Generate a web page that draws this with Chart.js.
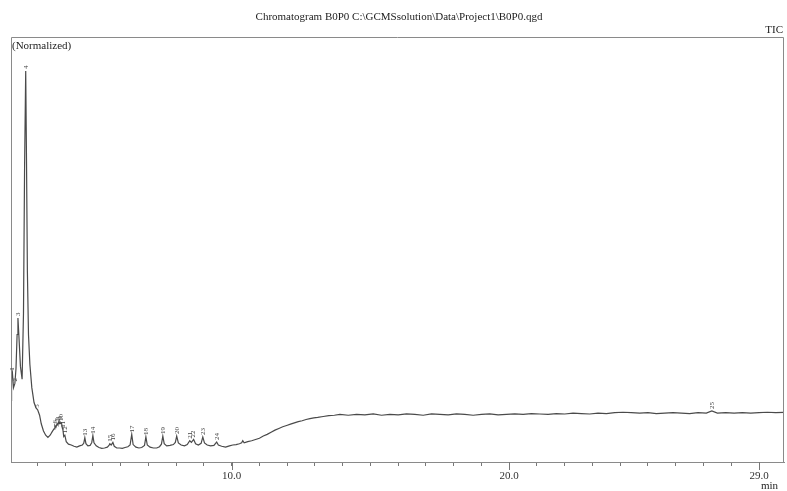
<!DOCTYPE html>
<html>
<head>
<meta charset="utf-8">
<script src="https://cdn.jsdelivr.net/npm/chart.js@4/dist/chart.umd.min.js"></script>
<style>
    html, body { margin: 0; padding: 0; background: #fff; }
    #wrap { width: 787px; height: 491px; }
</style>
</head>
<body>
<div id="wrap"><canvas id="tic"></canvas></div>
<script>
// retention time (min) and normalized intensity
const times = [
    2.05, 2.07, 2.10, 2.14, 2.19, 2.23, 2.27, 2.30, 2.34, 2.39, 2.45, 2.50, 2.54, 2.58, 2.61, 2.64, 2.68, 2.73, 2.80, 2.88,
    2.95, 3.01, 3.08, 3.14, 3.22, 3.30, 3.38, 3.46, 3.54, 3.60, 3.63, 3.67, 3.71, 3.74, 3.76, 3.79, 3.81, 3.84, 3.87, 3.90,
    3.92, 3.95, 3.99, 4.04, 4.12, 4.22, 4.32, 4.42, 4.52, 4.62, 4.67, 4.71, 4.75, 4.82, 4.90, 4.96, 5.00, 5.04, 5.12, 5.22,
    5.32, 5.42, 5.52, 5.58, 5.61, 5.66, 5.72, 5.77, 5.86, 5.96, 6.06, 6.16, 6.26, 6.34, 6.40, 6.45, 6.55, 6.66, 6.76, 6.86,
    6.91, 6.96, 7.06, 7.18, 7.30, 7.40, 7.47, 7.52, 7.57, 7.66, 7.78, 7.90, 7.97, 8.02, 8.08, 8.18, 8.30, 8.40, 8.49, 8.55,
    8.63, 8.70, 8.80, 8.90, 8.96, 9.02, 9.12, 9.24, 9.36, 9.46, 9.52, 9.64, 9.78, 9.92, 10.04, 10.16, 10.28, 10.36, 10.40, 10.45,
    10.58, 10.72, 10.86, 11.00, 11.14, 11.28, 11.42, 11.56, 11.70, 11.84, 11.98, 12.12, 12.26, 12.40, 12.54, 12.68, 12.82, 12.96, 13.10, 13.30,
    13.50, 13.70, 13.90, 14.2, 14.5, 14.8, 15.1, 15.4, 15.7, 16.0, 16.3, 16.6, 16.9, 17.2, 17.5, 17.8, 18.1, 18.4, 18.7, 19.0,
    19.3, 19.6, 19.9, 20.2, 20.5, 20.8, 21.1, 21.4, 21.7, 22.0, 22.3, 22.6, 22.9, 23.2, 23.5, 23.8, 24.1, 24.4, 24.7, 25.0,
    25.3, 25.6, 25.9, 26.2, 26.5, 26.8, 27.1, 27.3, 27.5, 27.8, 28.1, 28.4, 28.7, 29.0, 29.3, 29.6, 29.9
];
const signal = [
    14.5, 20.0, 21.0, 17.5, 18.5, 22.0, 30.0, 33.9, 29.0, 22.5, 19.5, 35.0, 70.0, 92.0, 70.0, 45.0, 30.0, 23.0, 17.5, 14.0,
    12.7, 12.3, 11.0, 9.0, 7.3, 6.3, 5.8, 6.3, 7.2, 7.8, 8.6, 8.2, 9.0, 8.7, 9.4, 9.0, 9.5, 9.1, 9.2, 8.0,
    7.6, 6.0, 6.3, 4.8, 4.2, 4.0, 3.7, 3.5, 3.8, 4.0, 4.4, 5.7, 4.3, 3.8, 3.9, 4.6, 6.2, 4.5, 3.8, 3.4,
    3.2, 3.3, 3.5, 3.9, 4.3, 4.0, 4.6, 3.7, 3.3, 3.3, 3.2, 3.4, 3.6, 4.0, 6.5, 4.1, 3.5, 3.3, 3.4, 3.9,
    5.9, 4.0, 3.5, 3.3, 3.3, 3.6, 4.2, 6.1, 4.3, 3.8, 3.9, 4.1, 4.6, 6.1, 4.5, 4.0, 3.8, 4.1, 5.0, 4.6,
    5.3, 4.3, 4.0, 4.4, 5.9, 4.5, 4.0, 3.8, 3.9, 4.7, 4.0, 3.7, 3.5, 3.8, 4.0, 4.1, 4.3, 4.5, 5.0, 4.5,
    4.8, 5.0, 5.3, 5.6, 6.1, 6.5, 7.0, 7.5, 7.9, 8.3, 8.6, 8.9, 9.2, 9.5, 9.7, 10.0, 10.2, 10.4, 10.5, 10.7,
    10.9, 11.0, 11.2, 11.0, 11.2, 11.1, 11.3, 11.0, 11.2, 11.1, 11.3, 11.2, 11.0, 11.3, 11.2, 11.1, 11.3, 11.2, 11.0, 11.2,
    11.3, 11.1, 11.2, 11.3, 11.2, 11.4, 11.3, 11.2, 11.4, 11.3, 11.5, 11.4, 11.3, 11.5, 11.4, 11.6, 11.7, 11.6, 11.5, 11.6,
    11.4, 11.5, 11.6, 11.5, 11.4, 11.6, 11.5, 12.0, 11.5, 11.6, 11.5, 11.6, 11.5, 11.6, 11.7, 11.6, 11.7
];

// peak numbers and their retention times
const peakNames = ['1', '2', '3', '4', '5', '6', '7', '8', '9', '10', '11', '12', '13',
    '14', '15', '16', '17', '18', '19', '20', '21', '22', '23', '24', '25'];
const peakTimes = [2.10, 2.19, 2.30, 2.58, 3.01, 3.63, 3.71, 3.76, 3.81, 3.87, 3.92, 3.99, 4.71,
    5.00, 5.61, 5.72, 6.40, 6.91, 7.52, 8.02, 8.49, 8.63, 8.96, 9.46, 27.3];

// only these ticks get a label (and a long tick mark)
const labelledTicks = [10, 20, 29];

const serif = '"Liberation Serif", "DejaVu Serif", serif';

function signalAt(t) {
    let best = 0;
    times.forEach(function (x, i) {
        if (Math.abs(x - t) < Math.abs(times[best] - t)) best = i;
    });
    return signal[best];
}

// box, header texts, long ticks and peak numbers
const decorations = {
    id: 'decorations',
    afterDraw(chart) {
        const ctx = chart.ctx;
        const area = chart.chartArea;
        const xs = chart.scales.x;
        const ys = chart.scales.y;
        ctx.save();
        ctx.strokeStyle = '#8a8a8a';
        ctx.lineWidth = 1;
        ctx.beginPath();
        ctx.moveTo(area.left + 0.5, area.bottom);
        ctx.lineTo(area.left + 0.5, area.top + 0.5);
        ctx.lineTo(area.right - 0.5, area.top + 0.5);
        ctx.lineTo(area.right - 0.5, area.bottom);
        ctx.stroke();

        ctx.strokeStyle = '#777';
        labelledTicks.forEach(function (v) {
            const px = Math.round(xs.getPixelForValue(v)) + 0.5;
            ctx.beginPath();
            ctx.moveTo(px, area.bottom);
            ctx.lineTo(px, area.bottom + 8);
            ctx.stroke();
        });

        ctx.fillStyle = '#222';
        ctx.font = '11px ' + serif;
        ctx.textBaseline = 'middle';
        ctx.textAlign = 'center';
        ctx.fillText('Chromatogram B0P0 C:\\GCMSsolution\\Data\\Project1\\B0P0.qgd', 399, 17);
        ctx.textAlign = 'right';
        ctx.fillText('TIC', 783, 30);
        ctx.fillText('min', 778, 486);
        ctx.textAlign = 'left';
        ctx.fillText('(Normalized)', 12, 46);

        ctx.font = '7px ' + serif;
        ctx.fillStyle = '#444';
        peakTimes.forEach(function (t, i) {
            const px = xs.getPixelForValue(t);
            const py = ys.getPixelForValue(signalAt(t)) - 2;
            ctx.save();
            ctx.translate(px, py);
            ctx.rotate(-Math.PI / 2);
            ctx.fillText(peakNames[i], 0, 0);
            ctx.restore();
        });
        ctx.restore();
    }
};

new Chart(document.getElementById('tic'), {
    type: 'line',
    data: {
        labels: times,
        datasets: [{
            data: times.map((t, i) => ({ x: t, y: signal[i] })),
            borderColor: '#4a4a4a',
            borderWidth: 1.2,
            pointRadius: 0,
            tension: 0,
            fill: false
        }]
    },
    options: {
        responsive: true,
        maintainAspectRatio: false,
        animation: false,
        layout: { padding: { left: 11, right: 3, top: 37, bottom: 0 } },
        plugins: {
            legend: { display: false },
            tooltip: { enabled: false }
        },
        scales: {
            x: {
                type: 'linear',
                min: 2.05,
                max: 29.9,
                afterBuildTicks: function (scale) {
                    const ticks = [];
                    for (let v = 3; v <= 29; v++) ticks.push({ value: v });
                    scale.ticks = ticks;
                },
                afterFit: function (scale) {
                    scale.height = 29;
                },
                grid: {
                    drawOnChartArea: false,
                    drawTicks: true,
                    tickLength: 4,
                    color: '#777'
                },
                border: { display: true, color: '#8a8a8a' },
                ticks: {
                    autoSkip: false,
                    maxRotation: 0,
                    padding: 4,
                    color: '#333',
                    font: { family: serif, size: 11 },
                    callback: function (value) {
                        return labelledTicks.includes(value) ? value.toFixed(1) : '';
                    }
                }
            },
            y: {
                display: false,
                min: 0,
                max: 100
            }
        }
    },
    plugins: [decorations]
});
</script>
</body>
</html>
